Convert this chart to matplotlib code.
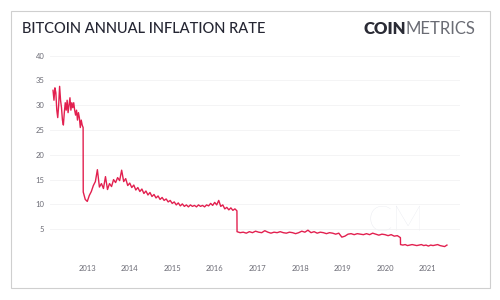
import numpy as np
import pandas as pd
import matplotlib
matplotlib.use("Agg")
import matplotlib.pyplot as plt
import matplotlib.dates as mdates
from matplotlib.patches import Rectangle

plt.rcParams['font.family'] = ['Lato', 'DejaVu Sans']

# --- data, one block per halving epoch ---
seg1_dates = ("2012-03-14", "2012-11-27")
seg1_vals = [33.0, 31.0, 33.5, 32.5, 29.0, 27.5, 30.0, 33.8, 31.0, 29.5, 27.0,
             26.0, 28.5, 30.5, 29.0, 31.0, 28.5, 30.0, 31.5, 29.0, 30.5, 29.5,
             30.5, 29.0, 28.0, 29.0, 27.0, 28.5, 27.5, 25.5, 27.0, 26.0, 25.5]

seg2_dates = ("2012-11-28", "2016-07-08")
seg2_vals = [12.5, 11.0, 10.6, 11.8, 12.6, 13.8, 14.6, 17.0, 13.5, 14.2, 13.2,
             15.6, 13.0, 14.2, 13.6, 15.0, 14.4, 15.4, 14.8, 16.9, 14.6, 15.2,
             13.8, 14.3, 13.4, 13.9, 12.9, 13.4, 12.6, 13.1, 12.2, 12.7, 11.9,
             12.4, 11.6, 12.0, 11.3, 11.7, 11.0, 11.4, 10.8, 11.1, 10.5, 10.8,
             10.2, 10.5, 9.9, 10.3, 9.7, 10.1, 9.6, 9.9, 9.5, 9.9, 9.6, 9.8,
             9.5, 9.9, 9.6, 9.8, 9.5, 9.9, 9.7, 10.2, 9.8, 10.4, 9.9, 10.8,
             9.6, 9.9, 9.1, 9.4, 8.9, 9.3, 8.8, 9.1, 8.7]

seg3_dates = ("2016-07-09", "2020-05-10")
seg3_vals = [4.5, 4.3, 4.4, 4.2, 4.5, 4.3, 4.6, 4.4, 4.3, 4.7, 4.4, 4.2, 4.4,
             4.3, 4.5, 4.3, 4.2, 4.4, 4.3, 4.1, 4.3, 4.6, 4.4, 4.8, 4.3, 4.5,
             4.2, 4.4, 4.3, 4.1, 4.3, 4.2, 4.0, 4.2, 3.4, 3.6, 4.0, 4.1, 3.9,
             4.1, 4.0, 3.9, 4.1, 3.9, 4.2, 4.0, 3.8, 4.0, 3.9, 3.7, 3.9, 3.6,
             3.7, 3.3]

seg4_dates = ("2020-05-11", "2021-06-13")
seg4_vals = [1.9, 1.8, 1.9, 1.7, 1.8, 1.9, 1.8, 1.7, 1.8, 1.9, 1.7, 1.8, 1.6,
             1.8, 1.7, 1.8, 1.9, 1.7, 1.6, 1.5, 1.8]

y_ticks = [5, 10, 15, 20, 25, 30, 35, 40]

segments = [(seg1_dates, seg1_vals), (seg2_dates, seg2_vals),
            (seg3_dates, seg3_vals), (seg4_dates, seg4_vals)]
dates, vals = [], []
for (d0, d1), v in segments:
    dates.extend(pd.date_range(d0, d1, periods=len(v)))
    vals.extend(v)
series = pd.Series(vals, index=pd.DatetimeIndex(dates))

# --- figure ---
fig = plt.figure(figsize=(5, 3), dpi=100, facecolor="white")
fig.patches.append(Rectangle((11 / 500, 1 - 288 / 300), 479 / 500, 277 / 300,
                             transform=fig.transFigure, fill=False,
                             edgecolor="#cfcfcf", linewidth=0.8))

fig.text(22 / 500, 1 - 29 / 300, "BITCOIN ANNUAL INFLATION RATE",
         fontsize=10.5, fontweight="medium", color="#252633",
         va="center", ha="left")
t_coin = fig.text(363 / 500, 1 - 29 / 300, "COIN", fontsize=12,
                  fontweight="heavy", color="#2a2b35", va="center", ha="left")
fig.canvas.draw()
bb = t_coin.get_window_extent()
fig.text(bb.x1 / 500, 1 - 29 / 300, "METRICS", fontsize=12,
         fontweight="normal", color="#6a6c74", va="center", ha="left")

ax = fig.add_axes([50 / 500, 1 - 254 / 300, 410 / 500, (254 - 55.6) / 300])
ax.set_facecolor("white")

# faint watermark
ax.text(pd.Timestamp("2020-04-01"), 3.2, "CM", fontsize=26, fontweight="light",
        color="#e6e8ee", ha="center", va="bottom", zorder=0)

ax.plot(series.index, series.values, color="#e2204f", linewidth=1.0, zorder=3)

ax.set_ylim(0, 40)
ax.set_yticks(y_ticks)
ax.set_xlim(pd.Timestamp("2012-02-17"), pd.Timestamp("2021-10-03"))
ax.xaxis.set_major_locator(mdates.YearLocator())
ax.xaxis.set_major_formatter(mdates.DateFormatter("%Y"))
ax.grid(axis="y", color="#f2f2f4", linewidth=0.6)
ax.set_axisbelow(True)
for s in ax.spines.values():
    s.set_visible(False)
ax.tick_params(axis="both", length=0, labelsize=5.5, labelcolor="#6b6b75")
ax.tick_params(axis="y", pad=4)
ax.tick_params(axis="x", pad=8)

fig.savefig("out.png", dpi=100, facecolor="white")
